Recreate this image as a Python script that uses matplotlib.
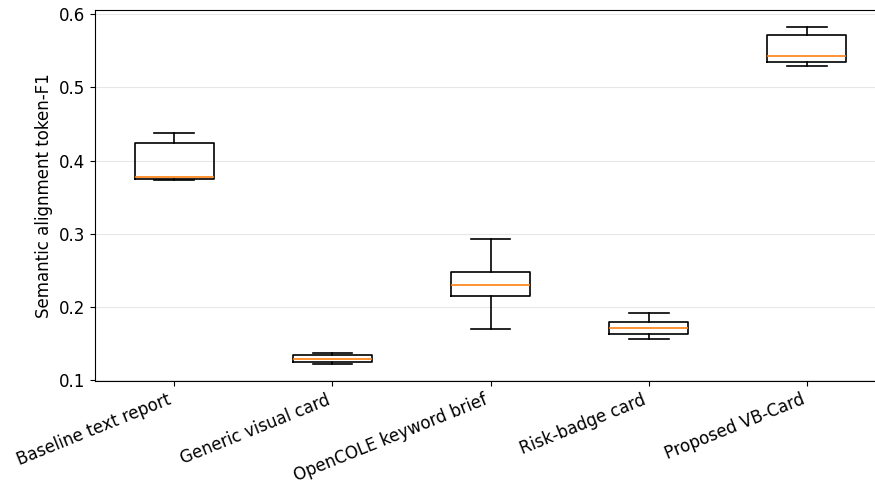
import matplotlib
matplotlib.use("Agg")
import matplotlib.pyplot as plt

# Semantic alignment token-F1 per condition (5 runs each)
conditions = [
    "Baseline text report",
    "Generic visual card",
    "OpenCOLE keyword brief",
    "Risk-badge card",
    "Proposed VB-Card",
]
baseline_text = [0.373, 0.3756, 0.3775, 0.4247, 0.4375]
generic_card = [0.1222, 0.1245, 0.1295, 0.1345, 0.1368]
opencole_brief = [0.1704, 0.2153, 0.2298, 0.2476, 0.2925]
risk_badge = [0.1559, 0.1636, 0.1722, 0.1794, 0.1917]
vb_card = [0.5296, 0.5354, 0.5432, 0.5718, 0.5827]

scores = [baseline_text, generic_card, opencole_brief, risk_badge, vb_card]

plt.rcParams["font.size"] = 12

fig = plt.figure(figsize=(8.75, 4.9), dpi=100)
ax = fig.add_axes([0.1086, 0.2224, 0.904, 0.7572])

lw = 1.2
ax.boxplot(scores, whis=(0, 100),
           boxprops=dict(linewidth=lw),
           whiskerprops=dict(linewidth=lw),
           capprops=dict(linewidth=lw),
           medianprops=dict(linewidth=lw))
ax.set_xticks(range(1, len(conditions) + 1))
ax.set_xticklabels(conditions, rotation=22, ha="right")
ax.set_ylabel("Semantic alignment token-F1")
ax.yaxis.grid(True, alpha=0.3)
ax.set_axisbelow(True)

fig.savefig("out.png", dpi=100)
